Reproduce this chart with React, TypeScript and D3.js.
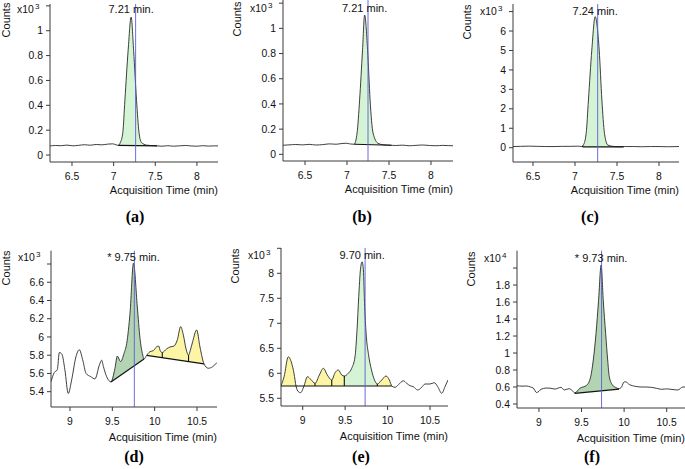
import React from 'react';
import * as d3 from 'd3';

type Pt = [number, number];

// ---------- axis ticks ----------
const earlyTimeTicks = [6.5, 7, 7.5, 8];
const earlyTimeLabels = ['6.5', '7', '7.5', '8'];
const lateTimeTicks = [9, 9.5, 10, 10.5];
const lateTimeLabels = ['9', '9.5', '10', '10.5'];

const countTicksAB = [0, 0.2, 0.4, 0.6, 0.8, 1, 1.2];
const countLabelsAB = ['0', '0.2', '0.4', '0.6', '0.8', '1', ''];
const countTicksC = [0, 1, 2, 3, 4, 5, 6, 7];
const countLabelsC = ['0', '1', '2', '3', '4', '5', '6', ''];
const countTicksD = [5.4, 5.6, 5.8, 6, 6.2, 6.4, 6.6, 6.8];
const countLabelsD = ['5.4', '5.6', '5.8', '6', '6.2', '6.4', '6.6', ''];
const countTicksE = [5.5, 6, 6.5, 7, 7.5, 8, 8.5];
const countLabelsE = ['5.5', '6', '6.5', '7', '7.5', '8', ''];
const countTicksF = [0.4, 0.6, 0.8, 1, 1.2, 1.4, 1.6, 1.8, 2];
const countLabelsF = ['0.4', '0.6', '0.8', '1', '1.2', '1.4', '1.6', '1.8', ''];

// ---------- chromatogram traces (time in min, counts in scaled units) ----------
const traceA: Pt[] = [
  [6.236, 0.073], [6.3, 0.077], [6.37, 0.075], [6.44, 0.08], [6.51, 0.074], [6.58, 0.078],
  [6.65, 0.083], [6.72, 0.079], [6.79, 0.085], [6.86, 0.082], [6.93, 0.088], [6.99, 0.09],
  [7.03, 0.082], [7.055, 0.078], [7.08, 0.1], [7.11, 0.18], [7.135, 0.44], [7.175, 0.85],
  [7.21, 1.11], [7.24, 0.84], [7.275, 0.44], [7.305, 0.18], [7.335, 0.1], [7.395, 0.08],
  [7.46, 0.076], [7.52, 0.074], [7.58, 0.071], [7.65, 0.075], [7.72, 0.071], [7.79, 0.074],
  [7.86, 0.077], [7.93, 0.073], [8.0, 0.071], [8.07, 0.075], [8.14, 0.072], [8.21, 0.074],
  [8.253, 0.073],
];

const traceB: Pt[] = [
  [6.238, 0.072], [6.31, 0.075], [6.39, 0.078], [6.47, 0.075], [6.55, 0.079], [6.63, 0.074],
  [6.71, 0.077], [6.79, 0.083], [6.87, 0.08], [6.94, 0.086], [6.99, 0.088], [7.04, 0.082],
  [7.085, 0.08], [7.12, 0.17], [7.15, 0.43], [7.185, 0.83], [7.21, 1.105], [7.245, 0.83],
  [7.275, 0.43], [7.31, 0.17], [7.37, 0.087], [7.43, 0.076], [7.5, 0.073], [7.58, 0.07],
  [7.66, 0.073], [7.74, 0.068], [7.82, 0.071], [7.9, 0.074], [7.98, 0.07], [8.06, 0.068],
  [8.14, 0.071], [8.21, 0.069], [8.262, 0.068],
];

const traceC: Pt[] = [
  [6.262, 0.06], [6.35, 0.07], [6.45, 0.08], [6.55, 0.07], [6.65, 0.06], [6.75, 0.06],
  [6.85, 0.07], [6.95, 0.07], [7.03, 0.08], [7.08, 0.06], [7.1, 0.14], [7.133, 0.74],
  [7.16, 2.45], [7.2, 5.02], [7.24, 6.74], [7.288, 5.02], [7.32, 2.45], [7.351, 0.74],
  [7.39, 0.14], [7.45, 0.07], [7.52, 0.05], [7.6, 0.06], [7.7, 0.06], [7.8, 0.05],
  [7.9, 0.06], [8.0, 0.06], [8.1, 0.05], [8.238, 0.06],
];

const traceD: Pt[] = [
  [8.776, 5.51], [8.815, 5.61], [8.85, 5.64], [8.875, 5.83], [8.905, 5.81], [8.94, 5.64],
  [8.98, 5.38], [9.02, 5.53], [9.07, 5.78], [9.11, 5.86], [9.15, 5.75], [9.19, 5.6],
  [9.245, 5.565], [9.295, 5.54], [9.35, 5.7], [9.375, 5.745], [9.395, 5.675], [9.433, 5.564],
  [9.484, 5.507], [9.531, 5.656], [9.559, 5.79], [9.598, 5.73], [9.638, 5.82], [9.67, 5.93],
  [9.709, 6.26], [9.75, 6.81], [9.795, 6.33], [9.827, 5.985], [9.859, 5.802], [9.874, 5.759],
  [9.906, 5.799], [9.945, 5.839], [9.984, 5.85], [10.024, 5.893], [10.047, 5.9], [10.07, 5.84],
  [10.09, 5.83], [10.142, 5.87], [10.181, 5.89], [10.228, 5.9], [10.268, 5.97], [10.307, 6.113],
  [10.339, 6.02], [10.37, 5.87], [10.4, 5.8], [10.42, 5.85], [10.449, 5.95], [10.496, 6.077],
  [10.535, 5.89], [10.583, 5.704], [10.633, 5.657], [10.685, 5.674], [10.736, 5.72],
];

const traceE: Pt[] = [
  [8.744, 5.75], [8.78, 5.93], [8.83, 6.33], [8.87, 6.2], [8.897, 6.0], [8.921, 5.746],
  [8.948, 5.633], [8.976, 5.613], [9.015, 5.746], [9.055, 5.932], [9.094, 5.879], [9.145, 5.799],
  [9.196, 5.966], [9.243, 6.1], [9.29, 5.966], [9.342, 5.866], [9.381, 6.012], [9.42, 6.066],
  [9.46, 5.966], [9.49, 5.946], [9.537, 6.0], [9.577, 6.1], [9.616, 6.33], [9.64, 6.87],
  [9.66, 7.53], [9.68, 8.07], [9.7, 8.23], [9.715, 8.07], [9.73, 7.33], [9.75, 6.73],
  [9.775, 6.38], [9.81, 6.07], [9.845, 5.87], [9.879, 5.786], [9.931, 5.866], [9.981, 5.946],
  [10.021, 5.866], [10.049, 5.746], [10.088, 5.72], [10.127, 5.77], [10.186, 5.85], [10.225, 5.8],
  [10.264, 5.752], [10.303, 5.732], [10.355, 5.666], [10.402, 5.72], [10.441, 5.786], [10.5, 5.786],
  [10.551, 5.812], [10.591, 5.732], [10.638, 5.6], [10.677, 5.732], [10.712, 5.866],
];

const traceF: Pt[] = [
  [8.742, 0.615], [8.8, 0.61], [8.855, 0.612], [8.9, 0.6], [8.933, 0.588], [8.972, 0.535],
  [9.0, 0.55], [9.023, 0.573], [9.09, 0.588], [9.14, 0.585], [9.188, 0.576], [9.258, 0.596],
  [9.297, 0.565], [9.352, 0.58], [9.39, 0.56], [9.42, 0.53], [9.48, 0.585], [9.56, 0.62],
  [9.607, 0.72], [9.638, 0.918], [9.67, 1.23], [9.7, 1.62], [9.73, 2.035], [9.755, 1.62],
  [9.783, 1.23], [9.807, 0.918], [9.826, 0.72], [9.866, 0.62], [9.9, 0.595], [9.94, 0.58],
  [9.97, 0.6], [10.0, 0.66], [10.02, 0.66], [10.06, 0.63], [10.1, 0.615], [10.15, 0.605],
  [10.2, 0.6], [10.26, 0.6], [10.32, 0.596], [10.38, 0.585], [10.44, 0.573], [10.5, 0.578],
  [10.55, 0.573], [10.63, 0.565], [10.69, 0.6], [10.715, 0.6],
];

// ---------- integrated peaks: baseline end points and filled slices ----------
const LIGHT_GREEN = '#d5f3d5';
const DARK_GREEN = '#b2d4b2';
const YELLOW = '#fcf5a6';

interface Slice { from: number; to: number; fill: string }
interface Integration { base: [Pt, Pt]; slices: Slice[] }

const peaksA: Integration[] = [
  { base: [[7.055, 0.078], [7.52, 0.074]], slices: [{ from: 7.055, to: 7.52, fill: LIGHT_GREEN }] },
];
const peaksB: Integration[] = [
  { base: [[7.085, 0.08], [7.53, 0.072]], slices: [{ from: 7.085, to: 7.53, fill: LIGHT_GREEN }] },
];
const peaksC: Integration[] = [
  { base: [[7.09, 0.04], [7.58, 0.04]], slices: [{ from: 7.09, to: 7.58, fill: LIGHT_GREEN }] },
];
const peaksD: Integration[] = [
  { base: [[9.484, 5.507], [9.874, 5.759]], slices: [{ from: 9.484, to: 9.874, fill: DARK_GREEN }] },
  {
    base: [[9.906, 5.799], [10.583, 5.704]],
    slices: [
      { from: 9.906, to: 10.09, fill: YELLOW },
      { from: 10.09, to: 10.4, fill: YELLOW },
      { from: 10.4, to: 10.583, fill: YELLOW },
    ],
  },
];
const peaksE: Integration[] = [
  {
    base: [[8.744, 5.746], [10.049, 5.746]],
    slices: [
      { from: 8.744, to: 8.921, fill: YELLOW },
      { from: 9.015, to: 9.145, fill: YELLOW },
      { from: 9.145, to: 9.342, fill: YELLOW },
      { from: 9.342, to: 9.49, fill: YELLOW },
      { from: 9.49, to: 9.879, fill: LIGHT_GREEN },
      { from: 9.879, to: 10.049, fill: YELLOW },
    ],
  },
];
const peaksF: Integration[] = [
  { base: [[9.42, 0.525], [9.94, 0.575]], slices: [{ from: 9.42, to: 9.94, fill: DARK_GREEN }] },
];

// ---------- panel layout ----------
interface PanelSpec {
  id: string;
  left: number; right: number; top: number; bottom: number;
  xDomain: [number, number];
  yDomain: [number, number];
  xTicks: number[]; xLabels: string[];
  yTicks: number[]; yLabels: string[];
  exponent: string;
  headY: number;
  trace: Pt[];
  peaks: Integration[];
  marker: number;
  peakText: string;
  peakAt: number;
  letter: string;
  letterX: number;
  letterY: number;
}

const panels: PanelSpec[] = [
  {
    id: 'a', left: 50, right: 218, top: 4, bottom: 162,
    xDomain: [6.236, 8.253], yDomain: [-0.056, 1.215],
    xTicks: earlyTimeTicks, xLabels: earlyTimeLabels, yTicks: countTicksAB, yLabels: countLabelsAB,
    exponent: '3', headY: 13, trace: traceA, peaks: peaksA, marker: 7.264,
    peakText: '7.21 min.', peakAt: 7.21, letter: '(a)', letterX: 135, letterY: 222,
  },
  {
    id: 'b', left: 283, right: 453, top: 0, bottom: 161,
    xDomain: [6.238, 8.262], yDomain: [-0.053, 1.225],
    xTicks: earlyTimeTicks, xLabels: earlyTimeLabels, yTicks: countTicksAB, yLabels: countLabelsAB,
    exponent: '3', headY: 12, trace: traceB, peaks: peaksB, marker: 7.25,
    peakText: '7.21 min.', peakAt: 7.21, letter: '(b)', letterX: 362, letterY: 222,
  },
  {
    id: 'c', left: 513, right: 679, top: 4, bottom: 162,
    xDomain: [6.262, 8.238], yDomain: [-0.735, 7.39],
    xTicks: earlyTimeTicks, xLabels: earlyTimeLabels, yTicks: countTicksC, yLabels: countLabelsC,
    exponent: '3', headY: 15, trace: traceC, peaks: peaksC, marker: 7.27,
    peakText: '7.24 min.', peakAt: 7.24, letter: '(c)', letterX: 590, letterY: 222,
  },
  {
    id: 'd', left: 51, right: 217, top: 250.7, bottom: 407,
    xDomain: [8.776, 10.736], yDomain: [5.232, 6.946],
    xTicks: lateTimeTicks, xLabels: lateTimeLabels, yTicks: countTicksD, yLabels: countLabelsD,
    exponent: '3', headY: 261, trace: traceD, peaks: peaksD, marker: 9.76,
    peakText: '* 9.75 min.', peakAt: 9.75, letter: '(d)', letterX: 134, letterY: 462,
  },
  {
    id: 'e', left: 281, right: 448, top: 248, bottom: 406,
    xDomain: [8.744, 10.712], yDomain: [5.346, 8.506],
    xTicks: lateTimeTicks, xLabels: lateTimeLabels, yTicks: countTicksE, yLabels: countLabelsE,
    exponent: '3', headY: 259, trace: traceE, peaks: peaksE, marker: 9.735,
    peakText: '9.70 min.', peakAt: 9.7, letter: '(e)', letterX: 361, letterY: 462,
  },
  {
    id: 'f', left: 517, right: 685, top: 250.7, bottom: 408,
    xDomain: [8.742, 10.715], yDomain: [0.353, 2.204],
    xTicks: lateTimeTicks, xLabels: lateTimeLabels, yTicks: countTicksF, yLabels: countLabelsF,
    exponent: '4', headY: 262, trace: traceF, peaks: peaksF, marker: 9.735,
    peakText: '* 9.73 min.', peakAt: 9.73, letter: '(f)', letterX: 592, letterY: 462,
  },
];

const SANS = '"Liberation Sans", Arial, sans-serif';
const SERIF = '"Liberation Serif", "Times New Roman", serif';
const AXIS = '#3a3a3a';

function interpolateTrace(trace: Pt[], t: number): number {
  const i = d3.bisector((d: Pt) => d[0]).left(trace, t);
  if (i <= 0) return trace[0][1];
  if (i >= trace.length) return trace[trace.length - 1][1];
  const [t0, v0] = trace[i - 1];
  const [t1, v1] = trace[i];
  return v0 + ((v1 - v0) * (t - t0)) / (t1 - t0);
}

function Panel({ p }: { p: PanelSpec }) {
  const x = d3.scaleLinear().domain(p.xDomain).range([p.left, p.right]);
  const y = d3.scaleLinear().domain(p.yDomain).range([p.bottom, p.top]);
  const line = d3.line<Pt>().x((d) => x(d[0])).y((d) => y(d[1])).curve(d3.curveMonotoneX);
  const clipId = `plot-${p.id}`;

  const fills: React.ReactNode[] = [];
  const marks: React.ReactNode[] = [];
  p.peaks.forEach((pk, k) => {
    const [[bt0, bv0], [bt1, bv1]] = pk.base;
    const baseAt = (t: number) => bv0 + ((bv1 - bv0) * (t - bt0)) / (bt1 - bt0);
    const area = d3
      .area<Pt>()
      .x((d) => x(d[0]))
      .y0((d) => y(baseAt(d[0])))
      .y1((d) => y(d[1]))
      .curve(d3.curveMonotoneX);
    const edges = new Set<number>();
    pk.slices.forEach((s, j) => {
      const pts: Pt[] = [
        [s.from, interpolateTrace(p.trace, s.from)],
        ...p.trace.filter((d) => d[0] > s.from + 1e-6 && d[0] < s.to - 1e-6),
        [s.to, interpolateTrace(p.trace, s.to)],
      ];
      fills.push(<path key={`f${k}-${j}`} d={area(pts) || ''} fill={s.fill} stroke="none" />);
      edges.add(s.from);
      edges.add(s.to);
    });
    marks.push(
      <line key={`b${k}`} x1={x(bt0)} y1={y(bv0)} x2={x(bt1)} y2={y(bv1)} stroke="#111" strokeWidth={1.2} />
    );
    Array.from(edges).forEach((t, j) => {
      const yc = y(interpolateTrace(p.trace, t));
      const yb = y(baseAt(t));
      if (Math.abs(yc - yb) > 0.6) {
        marks.push(<line key={`d${k}-${j}`} x1={x(t)} x2={x(t)} y1={yb} y2={yc} stroke="#111" strokeWidth={1.1} />);
      }
    });
  });

  const countsX = Math.max(p.left - 42, 9.5);

  return (
    <g>
      <defs>
        <clipPath id={clipId}>
          <rect x={p.left} y={p.top - 2} width={p.right - p.left} height={p.bottom - p.top + 2} />
        </clipPath>
      </defs>
      <g clipPath={`url(#${clipId})`}>
        {fills}
        <path d={line(p.trace) || ''} fill="none" stroke="#2a2a2a" strokeWidth={0.9} />
        {marks}
      </g>
      <line x1={x(p.marker)} x2={x(p.marker)} y1={p.top} y2={p.bottom} stroke="#5c5cd6" strokeWidth={0.9} />

      {/* axes */}
      <line x1={p.left} x2={p.left} y1={p.top} y2={p.bottom} stroke={AXIS} strokeWidth={1} />
      <line x1={p.left} x2={p.right} y1={p.bottom} y2={p.bottom} stroke={AXIS} strokeWidth={1} />
      {p.yTicks.map((v, i) => (
        <g key={`yt${i}`}>
          <line x1={p.left - 4} x2={p.left} y1={y(v)} y2={y(v)} stroke={AXIS} strokeWidth={1} />
          {p.yLabels[i] && (
            <text x={p.left - 7} y={y(v)} dy="0.35em" textAnchor="end" fontSize={10.4} fontFamily={SANS} fill="#111">
              {p.yLabels[i]}
            </text>
          )}
        </g>
      ))}
      {p.xTicks.map((v, i) => (
        <g key={`xt${i}`}>
          <line x1={x(v)} x2={x(v)} y1={p.bottom} y2={p.bottom + 4} stroke={AXIS} strokeWidth={1} />
          <text x={x(v)} y={p.bottom + 17.5} textAnchor="middle" fontSize={10.4} fontFamily={SANS} fill="#111">
            {p.xLabels[i]}
          </text>
        </g>
      ))}

      {/* titles */}
      <text
        transform={`translate(${countsX},${p.headY + 7}) rotate(-90)`}
        textAnchor="middle"
        fontSize={11}
        fontFamily={SANS}
        fill="#111"
      >
        Counts
      </text>
      <text x={p.left - 33} y={p.headY} fontSize={10.4} fontFamily={SANS} fill="#111">
        x10
      </text>
      <text x={p.left - 15} y={p.headY - 4.5} fontSize={8} fontFamily={SANS} fill="#111">
        {p.exponent}
      </text>
      <text x={x(p.peakAt)} y={p.headY - 0.5} textAnchor="middle" fontSize={11} fontFamily={SANS} fill="#111">
        {p.peakText}
      </text>
      <text x={p.right} y={p.bottom + (p.bottom > 300 ? 34 : 31.5)} textAnchor="end" fontSize={11} fontFamily={SANS} fill="#111">
        Acquisition Time (min)
      </text>
      <text x={p.letterX} y={p.letterY} textAnchor="middle" fontSize={16} fontWeight="bold" fontFamily={SERIF} fill="#000">
        {p.letter}
      </text>
    </g>
  );
}

export default function App() {
  return (
    <svg
      width={685}
      height={469}
      viewBox="0 0 685 469"
      style={{ position: 'absolute', left: 0, top: 0, background: '#fff' }}
    >
      <rect width={685} height={469} fill="#fff" />
      {panels.map((p) => (
        <Panel key={p.id} p={p} />
      ))}
    </svg>
  );
}
